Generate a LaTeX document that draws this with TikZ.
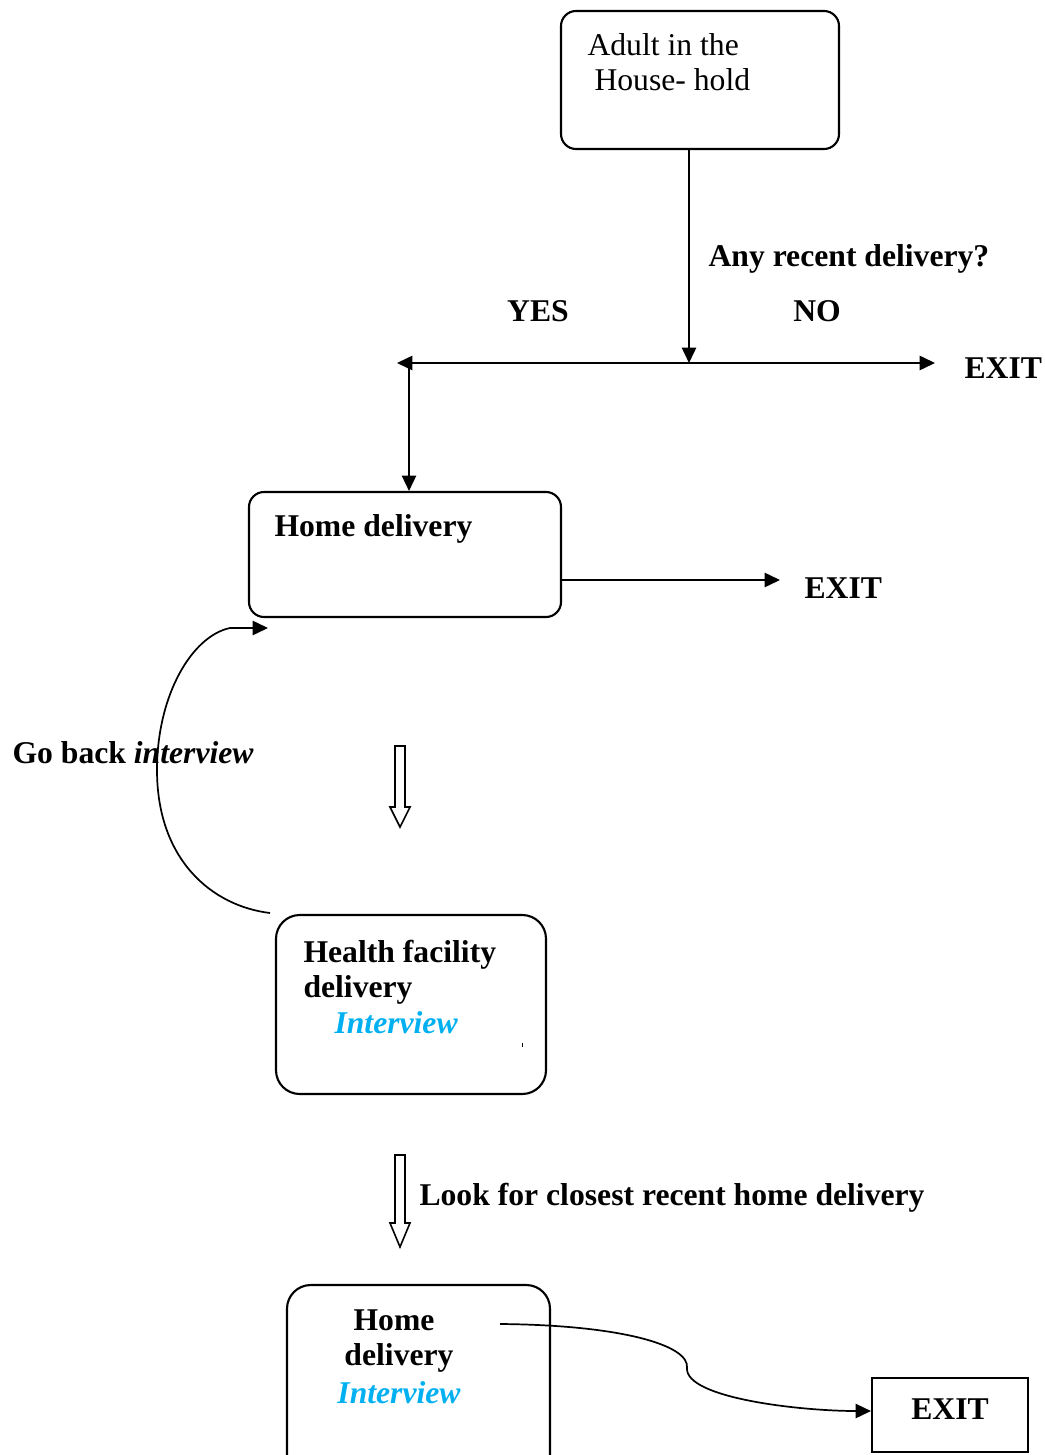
\documentclass[tikz,border=0pt]{standalone}
\usepackage{fontspec}
\setmainfont{Liberation Serif}
\usetikzlibrary{arrows.meta,fit}
\definecolor{ilblue}{RGB}{0,176,240}
\begin{document}
\begin{tikzpicture}[x=0.379pt,y=-0.379pt,
  font=\fontsize{12}{14}\selectfont,
  rbox/.style={draw, line width=0.8pt, rounded corners=5.7pt, inner sep=0pt},
  rboxb/.style={rbox, rounded corners=9pt},
  txt/.style={inner sep=0pt, anchor=base west},
  ctxt/.style={inner sep=0pt, anchor=base},
  bt/.style={font=\fontsize{12}{14}\selectfont\bfseries},
  it/.style={font=\fontsize{12}{14}\selectfont\bfseries\itshape, text=ilblue},
  arr/.style={line width=0.65pt, -{Triangle[length=5.8pt,width=5.4pt]}},
  hollow/.style={draw, line width=0.6pt, fill=white, line join=miter}]
\useasboundingbox (0,0) rectangle (1044,1455);

% boxes
\node[rbox, fit={(561,11) (839,149)}] (adult) {};
\node[rbox, fit={(249,492) (561,617)}] (home) {};
\node[rboxb, fit={(276,915) (546,1094)}] (hfd) {};
\node[rboxb, fit={(287,1285) (550,1480)}] (home2) {};
\node[draw, line width=0.8pt, inner sep=0pt, fit={(872,1378) (1028,1452)}] (exitbox) {};

% texts
\node[txt] (t1) at (587,56) {Adult in the};
\node[txt] (t2) at (594,91) {House- hold};
\node[txt, bt] (q) at (708,267) {Any recent delivery?};
\node[ctxt, bt] (yes) at (538,322) {YES};
\node[ctxt, bt] (no) at (817,322) {NO};
\node[txt, bt] (exit1) at (964,378) {EXIT};
\node[txt, bt] (hd) at (274,536) {Home delivery};
\node[txt, bt] (exit2) at (804,598) {EXIT};
\node[txt, bt] (goback) at (12,763) {Go back \textit{interview}};
\node[txt, bt] (hf1) at (303,962) {Health facility};
\node[txt, bt] (hf2) at (303,997) {delivery};
\node[txt, it] (hf3) at (334,1033) {Interview};
\node[txt, bt] (look) at (419,1205) {Look for closest recent home delivery};
\node[ctxt, bt] (h1) at (394,1330) {Home};
\node[ctxt, bt] (h2) at (399,1365) {delivery};
\node[ctxt, it] (h3) at (399,1403) {Interview};
\node[ctxt, bt] (exit3) at (exitbox.center |- 0,1419) {EXIT};
\fill (521.5,1043) rectangle (523,1047);

% connectors
\coordinate (j) at (689,363);
\coordinate (yl) at (397,363);
\coordinate (nr) at (935,363);
\coordinate (yd) at (409,363);
\coordinate (hx) at (780,580);
\draw[arr] (adult.south -| j) -- (j);
\draw[arr] (j) -- (yl);
\draw[arr] (j) -- (nr);
\draw[arr] (yd) -- (yd |- home.north);
\draw[arr] (hx -| home.east) -- (hx);

% go back curve
\coordinate (gbs) at (270,913);
\coordinate (gbe) at (268,628);
\draw[arr] (gbs) .. controls (212,906) and (157,860) .. (157,770)
  .. controls (157,695) and (192,636) .. (230,628) -- (gbe);

% bottom curve
\coordinate (bcs) at (500,1324);
\draw[arr] (bcs) .. controls (620,1325) and (690,1345) .. (687,1368)
  .. controls (685,1398) and (800,1411) .. (exitbox.west |- 0,1411);

% hollow arrows
\draw[hollow] (395,746) -- (405,746) -- (405,807) -- (410,807) -- (400,827)
  -- (390,807) -- (395,807) -- cycle;
\draw[hollow] (395,1155) -- (405,1155) -- (405,1223) -- (410,1223) -- (400,1247)
  -- (390,1223) -- (395,1223) -- cycle;
\end{tikzpicture}
\end{document}
